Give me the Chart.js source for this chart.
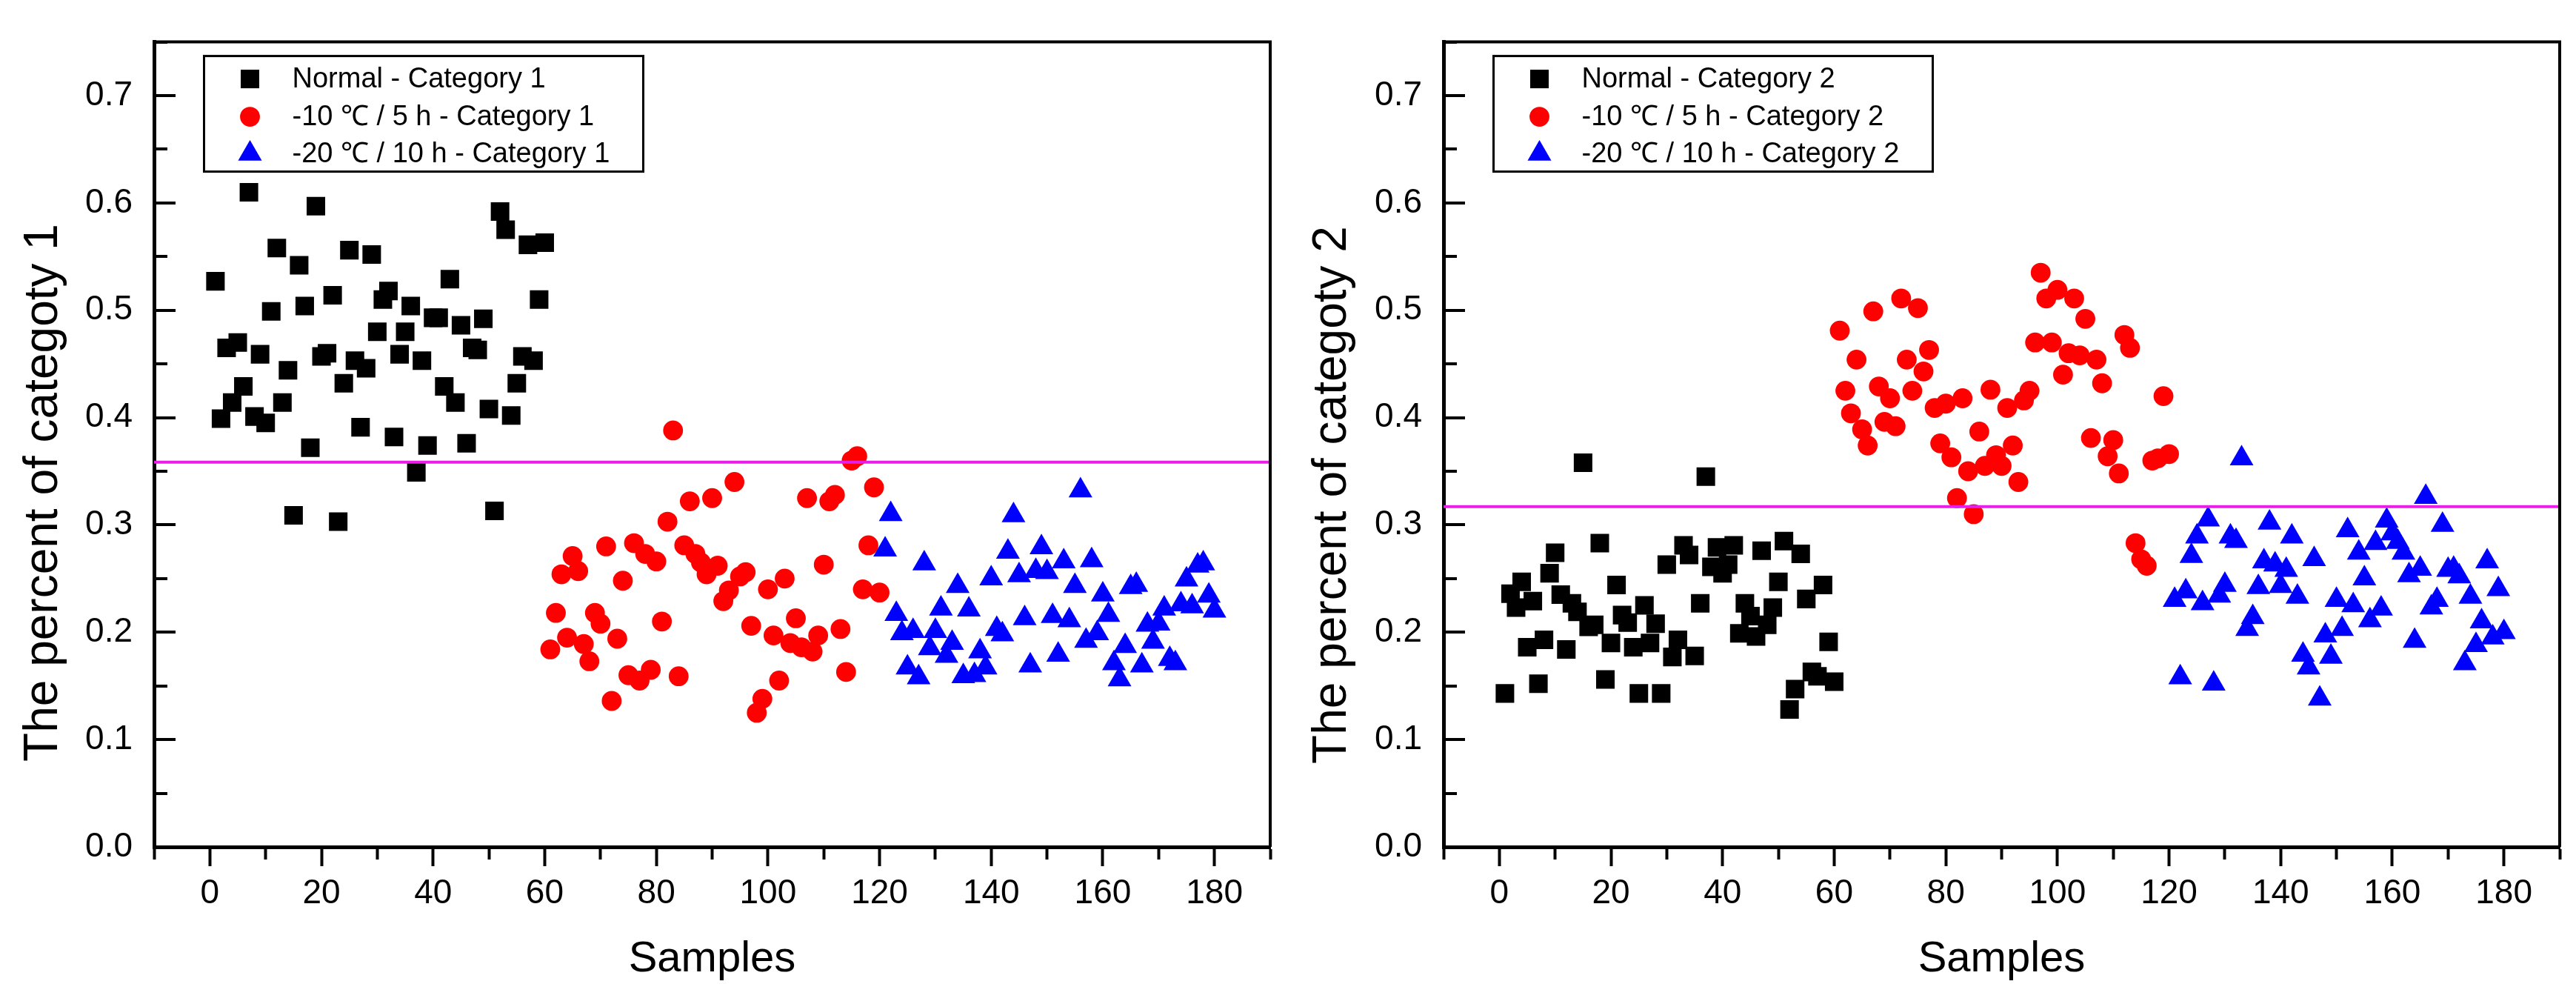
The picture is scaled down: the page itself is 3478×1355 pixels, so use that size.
<!DOCTYPE html>
<html>
<head>
<meta charset="utf-8">
<title>Category percent by sample</title>
<script src="https://cdn.jsdelivr.net/npm/chart.js@4.4.1/dist/chart.umd.min.js"></script>
<style>
  html, body { margin: 0; padding: 0; background: #fff; }
  body { width: 3478px; height: 1355px; position: relative; overflow: hidden; }
  canvas { position: absolute; top: 0; }
  #left { left: 0; }
  #right { left: 1739px; }
</style>
</head>
<body>
<canvas id="left" width="1739" height="1355"></canvas>
<canvas id="right" width="1739" height="1355"></canvas>
<script>
// sample numbers on the x axis
const seq = (from, to) => { const a = []; for (let i = from; i <= to; i++) a.push(i); return a; };
const samplesNormal = seq(1, 60);
const samplesCold10 = seq(61, 120);
const samplesCold20 = seq(121, 180);

// category 1 (left panel)
const normal1 = [0.527,0.399,0.465,0.414,0.470,0.429,0.610,0.401,0.459,0.395,
  0.499,0.558,0.414,0.444,0.309,0.542,0.504,0.372,0.597,0.457,
  0.460,0.514,0.303,0.432,0.556,0.453,0.391,0.446,0.552,0.480,
  0.510,0.518,0.382,0.459,0.480,0.504,0.349,0.453,0.374,0.493,
  0.493,0.429,0.529,0.414,0.486,0.376,0.465,0.463,0.492,0.408,
  0.313,0.592,0.575,0.402,0.432,0.457,0.561,0.453,0.510,0.563];
const cold10_1 = [0.184,0.218,0.254,0.195,0.271,0.257,0.189,0.173,0.218,0.208,
  0.280,0.136,0.194,0.248,0.160,0.283,0.155,0.273,0.165,0.266,
  0.210,0.303,0.388,0.159,0.281,0.322,0.273,0.265,0.254,0.325,
  0.262,0.229,0.239,0.340,0.252,0.256,0.206,0.125,0.138,0.240,
  0.197,0.155,0.250,0.190,0.213,0.186,0.325,0.182,0.197,0.263,
  0.322,0.328,0.203,0.163,0.360,0.364,0.240,0.281,0.335,0.237];
const cold20_1 = [0.277,0.310,0.217,0.199,0.167,0.201,0.158,0.264,0.185,0.201,
  0.222,0.178,0.190,0.243,0.159,0.221,0.160,0.182,0.167,0.250,
  0.203,0.198,0.275,0.309,0.253,0.213,0.169,0.257,0.279,0.256,
  0.215,0.179,0.266,0.211,0.243,0.332,0.192,0.267,0.199,0.235,
  0.216,0.171,0.156,0.187,0.242,0.244,0.169,0.207,0.191,0.208,
  0.222,0.175,0.171,0.226,0.249,0.224,0.262,0.264,0.234,0.220];
const threshold1 = 0.3585;

// category 2 (right panel)
const normal2 = [0.143,0.236,0.223,0.247,0.186,0.229,0.152,0.193,0.255,0.274,
  0.235,0.184,0.227,0.219,0.358,0.205,0.207,0.283,0.156,0.190,
  0.244,0.216,0.209,0.186,0.143,0.225,0.190,0.208,0.143,0.263,
  0.177,0.193,0.281,0.272,0.178,0.227,0.345,0.261,0.279,0.255,
  0.263,0.281,0.199,0.227,0.215,0.196,0.276,0.207,0.223,0.247,
  0.285,0.128,0.147,0.273,0.231,0.163,0.159,0.244,0.191,0.154];
const cold10_2 = [0.481,0.425,0.404,0.454,0.389,0.374,0.499,0.429,0.396,0.418,
  0.392,0.511,0.454,0.425,0.502,0.443,0.463,0.409,0.376,0.413,
  0.363,0.325,0.418,0.350,0.310,0.387,0.355,0.426,0.365,0.355,
  0.409,0.374,0.340,0.416,0.425,0.470,0.535,0.511,0.470,0.519,
  0.440,0.460,0.511,0.458,0.492,0.381,0.454,0.432,0.364,0.379,
  0.348,0.477,0.465,0.283,0.268,0.262,0.360,0.362,0.420,0.366];
const cold20_2 = [0.230,0.158,0.238,0.271,0.289,0.227,0.305,0.152,0.234,0.244,
  0.289,0.285,0.362,0.203,0.214,0.242,0.266,0.302,0.263,0.243,
  0.258,0.289,0.233,0.179,0.167,0.268,0.138,0.197,0.177,0.230,
  0.203,0.295,0.225,0.274,0.250,0.211,0.283,0.222,0.304,0.292,
  0.284,0.274,0.253,0.192,0.259,0.326,0.223,0.230,0.300,0.258,
  0.259,0.252,0.171,0.233,0.188,0.210,0.266,0.195,0.240,0.200];
const threshold2 = 0.317;

const legend1 = ["Normal - Category 1", "-10 \u2103 / 5 h - Category 1", "-20 \u2103 / 10 h - Category 1"];
const legend2 = ["Normal - Category 2", "-10 \u2103 / 5 h - Category 2", "-20 \u2103 / 10 h - Category 2"];

const X_MIN = -10, X_MAX = 190;
const FONT = "'Liberation Sans', Arial, sans-serif";
const SIZES = { rect: 17.7, circle: 13.4, triangle: 18.5 };

const toPoints = (xs, ys) => ys.map((y, i) => ({ x: xs[i], y: y }));

// same geometry as Chart.js point styles, used for the boxed legend
function drawMarker(ctx, style, x, y, r) {
  ctx.beginPath();
  if (style === 'rect') {
    const s = Math.SQRT1_2 * r;
    ctx.rect(x - s, y - s, 2 * s, 2 * s);
  } else if (style === 'circle') {
    ctx.arc(x, y, r, 0, Math.PI * 2);
  } else {
    let rad = 0;
    ctx.moveTo(x + Math.sin(rad) * r, y - Math.cos(rad) * r);
    rad += Math.PI * 2 / 3;
    ctx.lineTo(x + Math.sin(rad) * r, y - Math.cos(rad) * r);
    rad += Math.PI * 2 / 3;
    ctx.lineTo(x + Math.sin(rad) * r, y - Math.cos(rad) * r);
    ctx.closePath();
  }
  ctx.fill();
}

function makePanel(canvasId, o) {
  const series = [
    { label: o.legend[0], data: toPoints(samplesNormal, o.normal), style: 'rect', color: '#000000', order: 4 },
    { label: o.legend[1], data: toPoints(samplesCold10, o.cold10), style: 'circle', color: '#ff0000', order: 3 },
    { label: o.legend[2], data: toPoints(samplesCold20, o.cold20), style: 'triangle', color: '#0000ff', order: 2 },
  ];

  const datasets = series.map(s => ({
    label: s.label,
    data: s.data,
    pointStyle: s.style,
    pointRadius: SIZES[s.style],
    pointHoverRadius: SIZES[s.style],
    backgroundColor: s.color,
    borderColor: s.color,
    borderWidth: 0,
    order: s.order,
  }));

  // horizontal reference line
  datasets.push({
    label: 'threshold',
    data: [{ x: X_MIN, y: o.threshold }, { x: X_MAX, y: o.threshold }],
    showLine: true,
    pointRadius: 0,
    borderColor: '#e61fe6',
    borderWidth: 4,
    order: 1,
  });

  const framePlugin = {
    id: 'frame',
    afterDraw(chart) {
      const ctx = chart.ctx, ca = chart.chartArea;
      ctx.save();
      ctx.strokeStyle = '#000';
      ctx.lineWidth = 4;
      ctx.beginPath();
      ctx.moveTo(ca.left, ca.top);
      ctx.lineTo(ca.right, ca.top);
      ctx.lineTo(ca.right, ca.bottom);
      ctx.stroke();

      // y axis title
      ctx.fillStyle = '#000';
      ctx.font = '64px ' + FONT;
      ctx.textAlign = 'center';
      ctx.textBaseline = 'alphabetic';
      ctx.translate(o.titleX, o.titleY);
      ctx.rotate(-Math.PI / 2);
      ctx.fillText(o.yTitle, 0, 0);
      ctx.restore();
    }
  };

  const legendPlugin = {
    id: 'boxLegend',
    afterDraw(chart) {
      const ctx = chart.ctx, ca = chart.chartArea;
      const bx = ca.left + 67.5, by = ca.top + 19, bw = 593, bh = 156;
      const rows = [31, 82, 132];
      ctx.save();
      ctx.fillStyle = '#fff';
      ctx.fillRect(bx, by, bw, bh);
      ctx.strokeStyle = '#000';
      ctx.lineWidth = 3;
      ctx.strokeRect(bx, by, bw, bh);
      series.forEach((s, i) => {
        ctx.fillStyle = s.color;
        drawMarker(ctx, s.style, bx + 62, by + rows[i], SIZES[s.style]);
        ctx.fillStyle = '#000';
        ctx.font = '38px ' + FONT;
        ctx.textAlign = 'left';
        ctx.textBaseline = 'middle';
        ctx.fillText(s.label, bx + 119, by + rows[i] + 1);
      });
      ctx.restore();
    }
  };

  const config = {
    type: 'scatter',
    data: { datasets: datasets },
    options: {
      responsive: false,
      animation: false,
      layout: { padding: { left: 0, top: o.top, right: o.right, bottom: 0 } },
      plugins: {
        legend: { display: false },
        tooltip: { enabled: false },
      },
      scales: {
        x: {
          type: 'linear',
          min: X_MIN,
          max: X_MAX,
          ticks: {
            stepSize: 10,
            autoSkip: false,
            maxRotation: 0,
            padding: 10,
            color: '#000',
            font: { family: FONT, size: 46 },
            callback: v => (v % 20 === 0 ? String(v) : ''),
          },
          grid: {
            drawOnChartArea: false,
            drawTicks: true,
            tickLength: 26,
            tickWidth: 4,
            tickColor: '#000',
            tickBorderDash: c => (c.tick && c.tick.value % 20 !== 0 ? [14, 200] : []),
          },
          border: { display: true, color: '#000', width: 5 },
          title: {
            display: true,
            text: 'Samples',
            color: '#000',
            font: { family: FONT, size: 58 },
            padding: { top: 0, bottom: 25 },
          },
          afterFit: s => { s.height = 212; },
        },
        y: {
          type: 'linear',
          min: 0,
          max: 0.75,
          ticks: {
            stepSize: 0.05,
            autoSkip: false,
            padding: 29,
            color: '#000',
            font: { family: FONT, size: 46 },
            callback: v => { const k = Math.round(v * 100); return k % 10 === 0 ? (k / 100).toFixed(1) : ''; },
          },
          // grid lines cut down to short inward ticks
          grid: { drawOnChartArea: true, drawTicks: false, color: '#000', lineWidth: 4 },
          border: {
            display: true,
            color: '#000',
            width: 5,
            dash: c => {
              if (!c.tick) return [];
              const k = Math.round(c.tick.value * 100);
              return k % 10 === 0 ? [26, 4000] : [15, 4000];
            },
          },
          afterFit: s => { s.width = o.yWidth; },
        },
      },
    },
    plugins: [framePlugin, legendPlugin],
  };

  return new Chart(document.getElementById(canvasId).getContext('2d'), config);
}

makePanel('left', {
  normal: normal1, cold10: cold10_1, cold20: cold20_1, threshold: threshold1,
  legend: legend1, yTitle: 'The percent of categoty 1',
  top: 39, right: 24, yWidth: 208, titleX: 77, titleY: 665,
});

makePanel('right', {
  normal: normal2, cold10: cold10_2, cold20: cold20_2, threshold: threshold2,
  legend: legend2, yTitle: 'The percent of categoty 2',
  top: 45, right: 22, yWidth: 210, titleX: 78, titleY: 668,
});
</script>
</body>
</html>
